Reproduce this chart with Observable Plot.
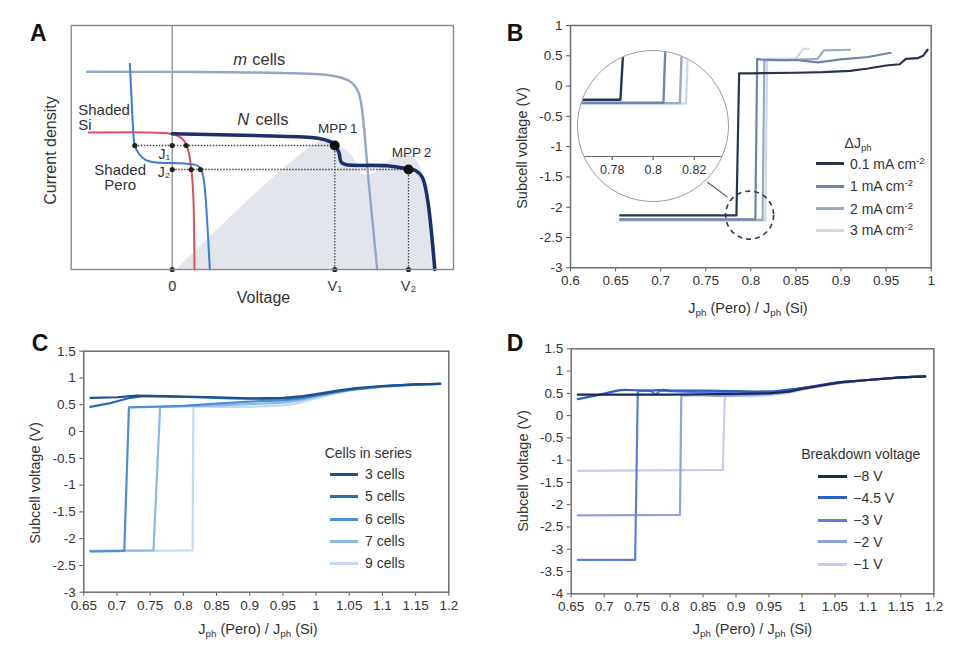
<!DOCTYPE html>
<html><head><meta charset="utf-8">
<script src="https://cdn.jsdelivr.net/npm/d3@7"></script>
<script src="https://cdn.jsdelivr.net/npm/@observablehq/plot@0.6"></script>
<style>
html,body{margin:0;padding:0;background:#fff;}
#page{position:relative;width:960px;height:652px;overflow:hidden;font-family:"Liberation Sans",Arial,sans-serif;color:#333;}
.lbl{position:absolute;white-space:nowrap;line-height:1;}
.letter{position:absolute;font-weight:bold;font-size:23px;line-height:1;color:#111;}
.sw{position:absolute;height:3px;}
sub{font-size:0.68em;vertical-align:-0.35em;line-height:0;}
sup{font-size:0.68em;vertical-align:0.5em;line-height:0;}
#inset{position:absolute;left:577px;top:50px;width:152px;height:152px;box-sizing:border-box;border:1.2px solid #9c9c9c;border-radius:50%;overflow:hidden;background:#fff;}
.pnl [aria-label$="tick label"], .pnl [aria-label$="tick label"] text{font-size:13.5px !important;font-family:"Liberation Sans",Arial,sans-serif !important;fill:#333;}
.ins text{font-size:12.5px !important;font-family:"Liberation Sans",Arial,sans-serif !important;}
</style></head><body><div id="page"></div><script>
// ---------- Panel A (schematic J-V curves; arbitrary units) ----------
const aMcells = [[-0.85,1.977],[0.3,1.975],[1.1,1.965],[1.5,1.95],[1.683,1.92],[1.763,1.89],[1.823,1.84],[1.863,1.77],[1.893,1.64],[1.97,0.82],[2.05,0]];
const aNcells = [[0,1.357],[0.816,1.34],[1.416,1.317],[1.55,1.29],[1.616,1.257],[1.626,1.24],[1.666,1.173],[1.69,1.073],[1.733,1.05],[2.15,1.037],[2.35,1.007],[2.433,0.99],[2.5,0.923],[2.55,0.723],[2.626,0]];
const aShadedSi = [[-0.834,1.37],[-0.05,1.363],[0.05,1.34],[0.116,1.29],[0.16,1.19],[0.19,1.01],[0.21,0.757],[0.223,0]];
const aShadedPero = [[-0.424,2.057],[-0.407,1.723],[-0.39,1.39],[-0.374,1.24],[-0.334,1.16],[-0.267,1.097],[-0.184,1.073],[0.083,1.063],[0.216,1.05],[0.266,1.03],[0.3,0.97],[0.323,0.84],[0.376,0]];
const aPower = [[0.05,0],[1.513,1.29],[1.623,1.24],[1.703,1.22],[1.783,1.16],[1.843,1.06],[1.893,0.97],[1.953,0.94],[2.033,0.97],[2.133,1.06],[2.233,1.12],[2.333,1.15],[2.403,1.13],[2.463,1.06],[2.523,0.89],[2.573,0.59],[2.616,0]];
const V1 = 1.626, V2 = 2.363, J1 = 1.24, J2 = 1.0, peroAtJ1 = -0.374;
const aTickVals = [0, V1, V2];
const aTickLabels = ["0", "V\u2081", "V\u2082"];
const aJLabels = ["J\u2081", "J\u2082"];
const aSmallDots = [[peroAtJ1,J1],[0,J1],[0.14,J1],[0,J2],[0.19,J2],[0.283,J2],[0,0],[V1,0],[V2,0]];
const aMPP = [[V1,J1],[V2,J2]];
const aMPPLabels = ["MPP\u20091","MPP\u20092"];

// ---------- Panel B ----------
const bX = [0.6,0.65,0.7,0.75,0.8,0.85,0.9,0.95,1];
const bY = [1,0.5,0,-0.5,-1,-1.5,-2,-2.5,-3];
const b01 = [[0.655,-2.135],[0.784,-2.135],[0.787,0.21],[0.80,0.21],[0.85,0.22],[0.88,0.23],[0.91,0.25],[0.93,0.29],[0.95,0.34],[0.965,0.36],[0.972,0.45],[0.985,0.46],[0.991,0.5],[0.996,0.6]];
const b1 = [[0.655,-2.2],[0.805,-2.2],[0.807,0.45],[0.81,0.44],[0.83,0.43],[0.85,0.43],[0.874,0.39],[0.9,0.44],[0.93,0.48],[0.955,0.55]];
const b2 = [[0.655,-2.21],[0.813,-2.21],[0.815,0.43],[0.84,0.43],[0.874,0.45],[0.881,0.59],[0.91,0.6]];
const b3 = [[0.655,-2.22],[0.816,-2.22],[0.818,0.45],[0.85,0.45],[0.858,0.615],[0.864,0.615]];
const bLabels = ["0.1 mA cm<sup>-2</sup>","1 mA cm<sup>-2</sup>","2 mA cm<sup>-2</sup>","3 mA cm<sup>-2</sup>"];
const bColors = ["#27344f","#6c86aa","#98abc6","#cfd8e7"];
const bInsetTicks = [0.78, 0.8, 0.82];

// ---------- Panel C ----------
const cX = [0.65,0.7,0.75,0.8,0.85,0.9,0.95,1,1.05,1.1,1.15,1.2];
const cY = [1.5,1,0.5,0,-0.5,-1,-1.5,-2,-2.5,-3];
const c3 = [[0.66,0.63],[0.7,0.64],[0.73,0.67],[0.77,0.66],[0.8,0.65],[0.85,0.64],[0.9,0.62],[0.95,0.63],[0.98,0.66],[1.0,0.7],[1.03,0.76],[1.06,0.81],[1.1,0.85],[1.15,0.88],[1.187,0.89]];
const c5 = [[0.66,0.46],[0.69,0.53],[0.72,0.63],[0.74,0.66],[0.78,0.65],[0.82,0.64],[0.87,0.62],[0.92,0.61],[0.96,0.62],[0.99,0.66],[1.02,0.72],[1.05,0.78],[1.1,0.85],[1.15,0.88],[1.187,0.89]];
const c6 = [[0.66,-2.24],[0.711,-2.23],[0.718,0.45],[0.75,0.46],[0.8,0.48],[0.85,0.52],[0.9,0.56],[0.95,0.58],[0.98,0.62],[1.01,0.7],[1.05,0.78],[1.1,0.84],[1.15,0.88],[1.187,0.89]];
const c7 = [[0.66,-2.23],[0.755,-2.22],[0.765,0.46],[0.8,0.47],[0.85,0.49],[0.9,0.51],[0.95,0.54],[0.975,0.58],[1.0,0.65],[1.05,0.77],[1.1,0.84],[1.15,0.87],[1.187,0.89]];
const c9 = [[0.66,-2.24],[0.814,-2.22],[0.815,0.47],[0.85,0.46],[0.9,0.46],[0.95,0.49],[0.97,0.52],[1.0,0.62],[1.03,0.72],[1.06,0.79],[1.1,0.84],[1.15,0.87],[1.187,0.89]];
const cLabels = ["3 cells","5 cells","6 cells","7 cells","9 cells"];
const cColors = ["#1d4f8c","#2c6db8","#4a90d6","#8db8e6","#c2dbf2"];

// ---------- Panel D ----------
const dX = [0.65,0.7,0.75,0.8,0.85,0.9,0.95,1,1.05,1.1,1.15,1.2];
const dY = [1.5,1,0.5,0,-0.5,-1,-1.5,-2,-2.5,-3,-3.5,-4];
const d8 = [[0.66,0.47],[0.7,0.47],[0.75,0.47],[0.8,0.47],[0.85,0.48],[0.9,0.49],[0.95,0.5],[0.98,0.54],[1.0,0.6],[1.03,0.68],[1.06,0.75],[1.1,0.8],[1.15,0.86],[1.187,0.88]];
const d45 = [[0.66,0.37],[0.69,0.46],[0.72,0.56],[0.73,0.58],[0.75,0.57],[0.77,0.56],[0.79,0.58],[0.8,0.56],[0.85,0.56],[0.9,0.55],[0.93,0.54],[0.96,0.55],[0.99,0.6],[1.02,0.66],[1.06,0.75],[1.1,0.8],[1.15,0.86],[1.187,0.88]];
const d3 = [[0.66,-3.24],[0.747,-3.24],[0.751,0.55],[0.77,0.56],[0.778,0.47],[0.785,0.56],[0.8,0.55],[0.85,0.52],[0.9,0.5],[0.95,0.52],[0.98,0.56],[1.0,0.62],[1.05,0.74],[1.1,0.8],[1.15,0.86],[1.187,0.88]];
const d2 = [[0.66,-2.24],[0.815,-2.23],[0.817,0.45],[0.85,0.46],[0.87,0.44],[0.9,0.45],[0.93,0.47],[0.96,0.5],[0.98,0.53],[1.0,0.6],[1.05,0.72],[1.1,0.8],[1.15,0.86],[1.187,0.88]];
const d1 = [[0.66,-1.24],[0.88,-1.22],[0.883,0.45],[0.9,0.46],[0.92,0.43],[0.95,0.46],[0.98,0.51],[1.0,0.58],[1.05,0.72],[1.1,0.8],[1.15,0.86],[1.187,0.88]];
const dLabels = ["\u22128 V","\u22124.5 V","\u22123 V","\u22122 V","\u22121 V"];
const dColors = ["#1b2a55","#2e5fc4","#5b7fd8","#8ea2df","#c3cdef"];

// ---------- helpers ----------
const page = document.getElementById("page");
const FONT = '"Liberation Sans", Arial, sans-serif';
const fmt = d => String(d);
const X = d => d[0], Y = d => d[1];
function styleFor(fs){ return {position:"absolute",left:"0px",top:"0px",background:"transparent",fontFamily:FONT,fontSize:fs+"px",color:"#333",overflow:"visible"}; }

function panel(box, xd, yd, xt, yt, marks){
  return Plot.plot({
    width:960, height:652, className:"pnl",
    marginLeft:box[0], marginRight:960-box[1], marginTop:box[2], marginBottom:652-box[3],
    x:{domain:xd}, y:{domain:yd},
    style: styleFor(13.5),
    marks:[
      ...marks,
      Plot.axisX({ticks:xt, tickFormat:fmt, tickSize:4, tickPadding:4, label:null, stroke:"#555", fontSize:13.5}),
      Plot.axisY({ticks:yt, tickFormat:fmt, tickSize:4, tickPadding:4, label:null, stroke:"#555", fontSize:13.5}),
      Plot.frame({stroke:"#6e6e6e", strokeWidth:1.5})
    ]
  });
}
function lines(series, colors, sw){
  return series.map((s,i)=>Plot.line(s,{x:X,y:Y,stroke:colors[i],strokeWidth:sw}));
}
function addLabel(html, x, y, fs, opts={}){
  const el = document.createElement("div");
  el.className = "lbl";
  el.innerHTML = html;
  el.style.fontSize = fs+"px";
  if (opts.rotate){
    el.style.left = x+"px"; el.style.top = y+"px";
    el.style.transform = "translate(-50%,-50%) rotate(-90deg)";
  } else if (opts.center){
    el.style.left = x+"px"; el.style.top = (y-0.49*fs)+"px";
    el.style.transform = "translateX(-50%)";
  } else {
    el.style.left = x+"px"; el.style.top = (y-0.49*fs)+"px";
  }
  page.appendChild(el);
  return el;
}
function addLetter(t, x, top){
  const el=document.createElement("div"); el.className="letter"; el.textContent=t;
  el.style.left=x+"px"; el.style.top=top+"px"; page.appendChild(el);
}
function legend(title, tcx, ty, x0, x1, tx, ys, labels, colors){
  addLabel(title, tcx, ty, 14, {center:true});
  ys.forEach((y,i)=>{
    const s=document.createElement("div"); s.className="sw";
    s.style.left=x0+"px"; s.style.width=(x1-x0)+"px"; s.style.top=(y-1.5)+"px"; s.style.background=colors[i];
    page.appendChild(s);
    addLabel(labels[i], tx, y, 14);
  });
}

// ---------- Panel A plot ----------
const aGuides = [
  {x1:peroAtJ1,y1:J1,x2:V1,y2:J1},
  {x1:0,y1:J2,x2:V2,y2:J2},
  {x1:V1,y1:0,x2:V1,y2:J1},
  {x1:V2,y1:0,x2:V2,y2:J2}
];
const plotA = Plot.plot({
  width:960, height:652, marginLeft:70.7, marginRight:507, marginTop:25, marginBottom:383,
  x:{domain:[-1.01,2.813], axis:null}, y:{domain:[0,2.44], axis:null},
  style: styleFor(14),
  marks:[
    Plot.areaY(aPower,{x:X,y:Y,fill:"#e3e5ed",curve:"catmull-rom"}),
    Plot.ruleX([0],{stroke:"#8a8a8a",strokeWidth:1.3}),
    Plot.link(aGuides,{x1:"x1",y1:"y1",x2:"x2",y2:"y2",stroke:"#444",strokeWidth:1.3,strokeDasharray:"1.5,1.5"}),
    Plot.line(aMcells,{x:X,y:Y,stroke:"#93a6c6",strokeWidth:2.4,curve:"catmull-rom"}),
    Plot.line(aShadedSi,{x:X,y:Y,stroke:"#e24c5c",strokeWidth:2,curve:"catmull-rom"}),
    Plot.line(aShadedPero,{x:X,y:Y,stroke:"#3b7bd4",strokeWidth:2,curve:"catmull-rom"}),
    Plot.line(aNcells,{x:X,y:Y,stroke:"#1b2e6e",strokeWidth:3.6,curve:"catmull-rom"}),
    Plot.dot(aSmallDots,{x:X,y:Y,r:2.6,fill:"#222"}),
    Plot.dot(aMPP,{x:X,y:Y,r:5,fill:"#111"}),
    Plot.text(aMPP,{x:X,y:Y,text:(d,i)=>aMPPLabels[i],dy:-17,dx:3,fontSize:13.5,fill:"#333"}),
    Plot.text(aTickVals,{x:d=>d,y:()=>0,text:(d,i)=>aTickLabels[i],dy:17,fontSize:14.5,fill:"#333"}),
    Plot.text([aJLabels[0]],{x:()=>0,y:()=>J1,text:d=>d,textAnchor:"end",dx:-2,dy:9,fontSize:14,fill:"#333"}),
    Plot.text([aJLabels[1]],{x:()=>0,y:()=>J2,text:d=>d,textAnchor:"end",dx:-2,dy:3,fontSize:14,fill:"#333"}),
    Plot.text(["m"],{x:()=>0.61,y:()=>2.097,text:d=>d,textAnchor:"start",fontStyle:"italic",fontSize:16.5,fill:"#333"}),
    Plot.text(["cells"],{x:()=>0.80,y:()=>2.097,text:d=>d,textAnchor:"start",fontSize:16.5,fill:"#333"}),
    Plot.text(["N"],{x:()=>0.65,y:()=>1.497,text:d=>d,textAnchor:"start",fontStyle:"italic",fontSize:16.5,fill:"#333"}),
    Plot.text(["cells"],{x:()=>0.833,y:()=>1.497,text:d=>d,textAnchor:"start",fontSize:16.5,fill:"#333"}),
    Plot.text(["Shaded\nSi"],{x:()=>-0.94,y:()=>1.52,text:d=>d,textAnchor:"start",lineHeight:1.05,fontSize:15,fill:"#333"}),
    Plot.text(["Shaded\nPero"],{x:()=>-0.52,y:()=>0.92,text:d=>d,lineHeight:1.05,fontSize:15,fill:"#333"}),
    Plot.text(["Voltage"],{x:()=>0.913,y:()=>-0.28,text:d=>d,fontSize:16,fill:"#333"}),
    Plot.text(["Current density"],{x:()=>-1.217,y:()=>1.19,text:d=>d,rotate:-90,fontSize:16,fill:"#333"}),
    Plot.frame({stroke:"#8a8a8a",strokeWidth:1.4})
  ]
});
page.appendChild(plotA);

// ---------- Panel B plot ----------
const bEllipse = [[0.7986,-2.13]];
const bLeader = [{x1:0.7519,y1:-1.586,x2:0.7741,y2:-1.833}];
const plotB = panel([570,930.7,25,267.3],[0.6,1],[-3,1],bX,bY,[
  ...lines([b3,b2,b1,b01],[bColors[3],bColors[2],bColors[1],bColors[0]],2.2),
  Plot.dot(bEllipse,{x:X,y:Y,r:24,stroke:"#2b3d68",strokeWidth:1.7,strokeDasharray:"5,4",fill:"none"}),
  Plot.link(bLeader,{x1:"x1",y1:"y1",x2:"x2",y2:"y2",stroke:"#555",strokeWidth:1.2})
]);
page.appendChild(plotB);

// inset (zoomed view of the step)
const inset = document.createElement("div"); inset.id="inset"; page.appendChild(inset);
const inAxisY = -3.395;
const plotInset = Plot.plot({
  width:150, height:150, margin:0, className:"ins",
  x:{domain:[0.76356,0.83673], axis:null}, y:{domain:[-4.395,-1.0617], axis:null},
  style:{background:"transparent",fontFamily:FONT,fontSize:"12.5px",color:"#333",display:"block"},
  marks:[
    ...[b3,b2,b1,b01].map((s,i)=>Plot.line(s,{x:X,y:Y,stroke:[bColors[3],bColors[2],bColors[1],bColors[0]][i],strokeWidth:2.4,clip:true})),
    Plot.ruleY([inAxisY],{stroke:"#666",strokeWidth:1.2}),
    Plot.ruleX(bInsetTicks,{x:d=>d,y1:inAxisY,y2:inAxisY-0.09,stroke:"#666",strokeWidth:1.2}),
    Plot.text(bInsetTicks,{x:d=>d,y:()=>inAxisY,dy:14,text:fmt,fill:"#333",fontSize:12.5})
  ]
});
inset.appendChild(plotInset);

// ---------- Panel C plot ----------
const plotC = panel([83.3,448.3,350.7,591.7],[0.65,1.2],[-3,1.5],cX,cY,
  lines([c9,c7,c6,c5,c3],[cColors[4],cColors[3],cColors[2],cColors[1],cColors[0]],2.2));
page.appendChild(plotC);

// ---------- Panel D plot ----------
const plotD = panel([570.7,933.3,348.3,593.3],[0.65,1.2],[-4,1.5],dX,dY,
  lines([d1,d2,d3,d45,d8],[dColors[4],dColors[3],dColors[2],dColors[1],dColors[0]],2.2));
page.appendChild(plotD);

// ---------- text: letters, axis titles, legends ----------
addLetter("A",30,22); addLetter("B",506.7,22); addLetter("C",31.7,332); addLetter("D",506.7,332);
const ylab = "Subcell voltage (V)";
const xlab = "J<sub>ph</sub> (Pero) / J<sub>ph</sub> (Si)";
addLabel(ylab,521.7,147.5,14.5,{rotate:true});
addLabel(xlab,748,308,14.5,{center:true});
addLabel(ylab,35,482.5,14.5,{rotate:true});
addLabel(xlab,258,629,14.5,{center:true});
addLabel(ylab,523.3,471,14.5,{rotate:true});
addLabel(xlab,752.5,629,14.5,{center:true});
legend("\u0394J<sub>ph</sub>",858,143.3,816,844.3,850,[163.5,186,208.5,230],bLabels,bColors);
legend("Cells in series",368.3,453.3,330,358.3,365,[474.3,496,519,541,563.3],cLabels,cColors);
legend("Breakdown voltage",860.7,454,818.3,846.7,853.3,[476,497.7,520,541.7,564.3],dLabels,dColors);
</script></body></html>
